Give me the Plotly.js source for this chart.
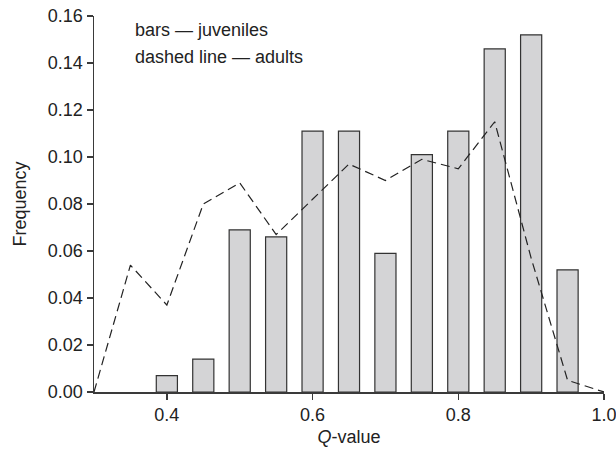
<!DOCTYPE html>
<html>
<head>
<meta charset="utf-8">
<script src="https://cdn.plot.ly/plotly-3.0.1.min.js"></script>
<style>
html,body{margin:0;padding:0;background:#fff;}
#chart{width:616px;height:450px;}
</style>
</head>
<body>
<div id="chart"></div>
<script>
// Juvenile frequencies (bars)
const barQ = [0.40, 0.45, 0.50, 0.55, 0.60, 0.65, 0.70, 0.75, 0.80, 0.85, 0.90, 0.95];
const juveniles = [0.007, 0.014, 0.069, 0.066, 0.111, 0.111, 0.059, 0.101, 0.111, 0.146, 0.152, 0.052];
// Adult frequencies (dashed line)
const lineQ = [0.30, 0.35, 0.40, 0.45, 0.50, 0.55, 0.60, 0.65, 0.70, 0.75, 0.80, 0.85, 0.90, 0.95, 1.00];
const adults = [0.000, 0.054, 0.037, 0.080, 0.089, 0.067, 0.082, 0.097, 0.090, 0.099, 0.095, 0.115, 0.057, 0.005, 0.000];
// Tick labels
const xTickVals = [0.4, 0.6, 0.8, 1.0];
const xTickText = ['0.4', '0.6', '0.8', '1.0'];
const yTickVals = [0, 0.02, 0.04, 0.06, 0.08, 0.10, 0.12, 0.14, 0.16];
const yTickText = ['0.00', '0.02', '0.04', '0.06', '0.08', '0.10', '0.12', '0.14', '0.16'];
const legendLines = ['bars \u2014 juveniles', 'dashed line \u2014 adults'];

const FONT = 'Liberation Sans, Arial, Helvetica, sans-serif';
const AX = '#3a3a3a';
const FS = 18;

const traces = [
  {
    type: 'bar',
    x: barQ,
    y: juveniles,
    width: barQ.map(() => 0.029),
    marker: {color: '#d4d4d6', line: {color: '#333333', width: 1.2}},
    hoverinfo: 'x+y',
    showlegend: false
  },
  {
    type: 'scatter',
    mode: 'lines',
    x: lineQ,
    y: adults,
    line: {color: '#222222', width: 1.2, dash: '9px,5px'},
    showlegend: false
  }
];

const layout = {
  width: 616,
  height: 450,
  margin: {l: 94, r: 12, t: 16, b: 58},
  paper_bgcolor: '#ffffff',
  plot_bgcolor: '#ffffff',
  font: {family: FONT, size: FS, color: '#222222'},
  showlegend: false,
  xaxis: {
    range: [0.3, 1.0],
    tickvals: xTickVals,
    ticktext: xTickText,
    ticks: 'outside',
    ticklen: 6,
    tickwidth: 1.5,
    tickcolor: AX,
    ticklabeloverflow: 'allow',
    showline: true,
    linecolor: AX,
    linewidth: 1.5,
    showgrid: false,
    zeroline: false,
    tickfont: {family: FONT, size: FS, color: '#222'},
    title: {text: '<i>Q</i>-value', font: {family: FONT, size: FS, color: '#222'}, standoff: 6}
  },
  yaxis: {
    range: [0, 0.16],
    tickvals: yTickVals,
    ticktext: yTickText,
    ticks: 'outside',
    ticklen: 6,
    tickwidth: 1.5,
    tickcolor: AX,
    showline: true,
    linecolor: AX,
    linewidth: 1.5,
    showgrid: false,
    zeroline: false,
    tickfont: {family: FONT, size: FS, color: '#222'},
    title: {text: 'Frequency', font: {family: FONT, size: FS, color: '#222'}, standoff: 16}
  },
  annotations: [
    {xref: 'paper', yref: 'paper', x: 0.076, y: 0.962, xanchor: 'left', yanchor: 'middle',
     text: legendLines[0], showarrow: false, font: {family: FONT, size: FS, color: '#222'}},
    {xref: 'paper', yref: 'paper', x: 0.076, y: 0.892, xanchor: 'left', yanchor: 'middle',
     text: legendLines[1], showarrow: false, font: {family: FONT, size: FS, color: '#222'}}
  ]
};

Plotly.newPlot('chart', traces, layout, {displayModeBar: false, staticPlot: true});
</script>
</body>
</html>
